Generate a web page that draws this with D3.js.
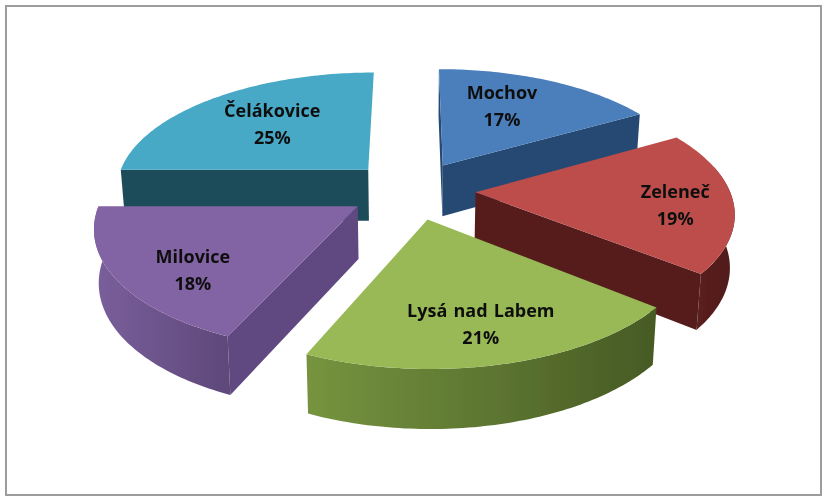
<!DOCTYPE html>
<html>
<head>
<meta charset="utf-8">
<script src="https://cdn.jsdelivr.net/npm/d3@7/dist/d3.min.js"></script>
<style>html,body{margin:0;padding:0;background:#fff}svg{display:block}</style>
</head>
<body>
<svg id="c" width="829" height="501"></svg>
<script>
const categories = ["Mochov", "Zeleneč", "Lysá nad Labem", "Milovice", "Čelákovice"];
const sliceValues = [16.7, 19.1, 20.8, 18.4, 25];
const percentLabels = ["17%", "19%", "21%", "18%", "25%"];

const topColors  = ["#4b7fbc", "#bd4e4b", "#98b955", "#8263a3", "#47a9c6"];
const wallColors = ["#264a73", "#561e1e", "#5a7030", "#614a80", "#1f4b5a"];
const rimLight   = ["#2f5a8a", "#5a2020", "#76943f", "#7a5f9c", "#2a6272"];
const rimDark    = ["#264a73", "#501c1c", "#465a24", "#5e4879", "#1f4b5a"];
const labelRadius = [0.64, 0.775, 0.755, 0.75, 0.61];
const labelNudge  = [-5, 3.2, 0.5, -7, 1];

const W = 829, H = 501;
const cx = 412, cy = 190, R = 254, persp = 0.149, tilt = 0.462, explode = 0.25, depth = 52;

const svg = d3.select("#c");
const defs = svg.append("defs");
defs.append("filter").attr("id", "soft").attr("x", "-5%").attr("y", "-5%").attr("width", "110%").attr("height", "110%")
  .append("feGaussianBlur").attr("stdDeviation", 0.55);

svg.append("rect").attr("width", W).attr("height", H).attr("fill", "#fff");
const root = svg.append("g").attr("filter", "url(#soft)");
root.append("rect").attr("x", 6).attr("y", 6).attr("width", 815).attr("height", 489)
  .attr("fill", "#fff").attr("stroke", "#9c9c9c").attr("stroke-width", 2);

const scaleAt = v => 1 / (1 - persp * v);
function project(X, V, down) {
  const s = scaleAt(V);
  const x = cx + R * X * s;
  const y = cy + R * tilt * V * s;
  if (!down) return [x, y];
  return [cx + (x - cx) * 0.985, y + depth * Math.pow(s, 0.7)];
}

const arcs = d3.pie().sort(null).value(d => d)(sliceValues);
const line = d3.line();
const STEP = Math.PI / 180;
const angles = (a0, a1) => {
  const n = Math.max(1, Math.ceil((a1 - a0) / STEP));
  return d3.range(n + 1).map(i => a0 + (a1 - a0) * i / n);
};

const slices = arcs.map((a, i) => {
  const mid = (a.startAngle + a.endAngle) / 2;
  const ox = explode * Math.sin(mid), ov = -explode * Math.cos(mid);
  const pt = (ang, r, down) => project(ox + r * Math.sin(ang), ov - r * Math.cos(ang), down);
  return { a, i, mid, ov, pt };
}).sort((p, q) => p.ov - q.ov);

slices.forEach(sl => {
  const { a, i, mid, pt } = sl;
  const g = root.append("g");
  const P = pt(0, 0), M = pt(mid, 1);

  [a.startAngle, a.endAngle].forEach(ang => {
    const Q = pt(ang, 1);
    const dx = Q[0] - P[0], dy = Q[1] - P[1];
    const inner = dx * (M[1] - P[1]) - dy * (M[0] - P[0]);
    const leaningAway = dx > 0 && dy < 0 && dx < 0.1 * Math.abs(dy);
    if (inner * dx < 0 && !leaningAway) {
      g.append("path")
        .attr("d", line([P, Q, pt(ang, 1, true), pt(0, 0, true)]) + "Z")
        .attr("fill", wallColors[i]);
    }
  });

  const r0 = Math.max(a.startAngle, 1.35), r1 = Math.min(a.endAngle, 3 * Math.PI / 2);
  if (r1 > r0) {
    const gid = "rim" + i;
    const grad = defs.append("linearGradient").attr("id", gid);
    grad.append("stop").attr("offset", "0%").attr("stop-color", rimLight[i]);
    grad.append("stop").attr("offset", "100%").attr("stop-color", rimDark[i]);
    const upper = angles(r0, r1).map(t => pt(t, 1));
    const lower = angles(r0, r1).reverse().map(t => pt(t, 1, true));
    g.append("path").attr("d", line(upper.concat(lower)) + "Z").attr("fill", "url(#" + gid + ")");
  }

  const edge = angles(a.startAngle, a.endAngle).map(t => pt(t, 1));
  g.append("path").attr("d", line([P].concat(edge)) + "Z").attr("fill", topColors[i]);
});

arcs.forEach((a, i) => {
  const mid = (a.startAngle + a.endAngle) / 2;
  const ang = mid + labelNudge[i] * Math.PI / 180;
  const X = explode * Math.sin(mid) + labelRadius[i] * Math.sin(ang);
  const V = -explode * Math.cos(mid) - labelRadius[i] * Math.cos(ang);
  const [x, y] = project(X, V);
  const t = root.append("text").attr("x", x).attr("y", y - 7)
    .attr("text-anchor", "middle")
    .attr("font-family", "'Open Sans', sans-serif")
    .attr("font-weight", 700).attr("font-size", 18).attr("word-spacing", 1.5).attr("fill", "#111");
  t.append("tspan").attr("x", x).text(categories[i]);
  t.append("tspan").attr("x", x).attr("dy", 27).text(percentLabels[i]);
});
</script>
</body>
</html>
